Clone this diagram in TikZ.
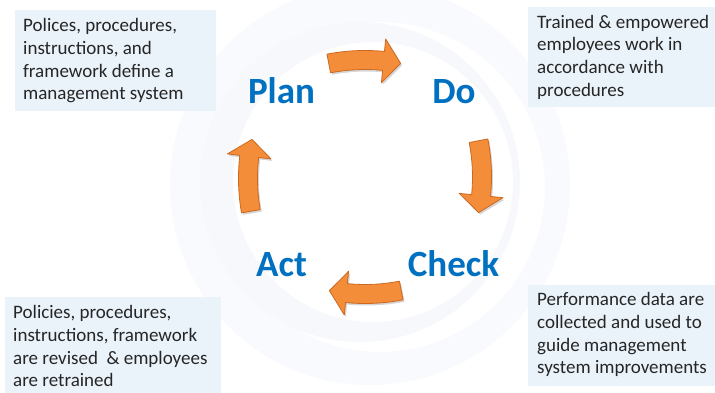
\documentclass[tikz,border=0pt]{standalone}
\usepackage{fontspec}
\setmainfont{Carlito}
\definecolor{boxfill}{RGB}{234,242,250}
\definecolor{txtcol}{RGB}{38,38,38}
\definecolor{pdcablue}{RGB}{0,112,192}
\definecolor{arrowor}{RGB}{243,141,58}
\definecolor{arrowedge}{RGB}{205,104,32}
\definecolor{swirl}{RGB}{249,250,253}
\definecolor{swirlb}{RGB}{246,248,251}
% curved arrow around the cycle centre, direction #1 (degrees),
% drawn on its own flatter arc of radius 190
\newcommand{\pdcaArrow}[1]{%
  \pgfmathsetmacro{\aT}{#1+11}%
  \pgfmathsetmacro{\aB}{#1-5.6}%
  \pgfmathsetmacro{\aP}{#1-10.8}%
  \def\pdcaPath{({\aT}:199.5) arc[start angle=\aT, end angle=\aB, radius=199.5]
    -- ({\aB}:212) -- ({\aP}:190) -- ({\aB}:168) -- ({\aB}:180.5)
    arc[start angle=\aB, end angle=\aT, radius=180.5] -- cycle}%
  \begin{scope}[shift={(#1+180:73)}]
  \fill[black, opacity=0.16, shift={(1.5,-2)}] \pdcaPath;
  \fill[arrowor, draw=arrowedge, line width=0.8pt, line join=round] \pdcaPath;
  \end{scope}
}
\tikzset{
  infobox/.style={rectangle, fill=boxfill, draw=none, inner sep=0pt, anchor=north west},
  infotext/.style={anchor=west, align=left, inner sep=0pt, text=txtcol,
    font=\fontsize{19}{22.7}\selectfont},
  phase/.style={anchor=base, inner sep=0pt, text=pdcablue,
    font=\fontsize{37}{40}\selectfont\bfseries}
}
\begin{document}
\begin{tikzpicture}[x=1pt,y=1pt]
\useasboundingbox (0,0) rectangle (715,393);
\fill[white] (0,0) rectangle (715,393);
% faint background swirl
\coordinate (C) at (365,216);
\begin{scope}
\clip (0,0) rectangle (715,393);
\fill[swirl, even odd rule] ([xshift=5pt,yshift=-8pt]C) circle (200) ([xshift=15pt,yshift=-10pt]C) circle (165);
\fill[swirlb, even odd rule] ([xshift=-5pt,yshift=-5pt]C) circle (160) ([xshift=8pt,yshift=-5pt]C) circle (140);
\end{scope}
% boxes
\node[infobox, minimum width=201pt, minimum height=101pt] (b1) at (15,383) {};
\node[infotext] (t1) at ([xshift=8pt]b1.west) {Polices, procedures,\\instructions, and\\framework define a\\management system};
\node[infobox, minimum width=187pt, minimum height=100pt] (b2) at (528,386) {};
\node[infotext] (t2) at ([xshift=9pt]b2.west) {Trained \& empowered\\employees work in\\accordance with\\procedures};
\node[infobox, minimum width=216pt, minimum height=96pt] (b3) at (5,96) {};
\node[infotext] (t3) at ([xshift=8pt,yshift=-1pt]b3.west) {Policies, procedures,\\instructions, framework\\are revised ~\& employees\\are retrained};
\node[infobox, minimum width=187pt, minimum height=101pt] (b4) at (528,108) {};
\node[infotext] (t4) at ([xshift=9pt,yshift=1pt]b4.west) {Performance data are\\collected and used to\\guide management\\system improvements};
% phase labels
\node[phase] (plan) at (281.5,289) {Plan};
\node[phase] (do) at (454,289) {Do};
\node[phase] (act) at (281.5,116) {Act};
\node[phase] (check) at (453.5,116) {Check};
% arrows
\begin{scope}[shift={(C)}]
\pdcaArrow{90}
\pdcaArrow{0}
\pdcaArrow{-90}
\pdcaArrow{179}
\end{scope}
\end{tikzpicture}
\end{document}
